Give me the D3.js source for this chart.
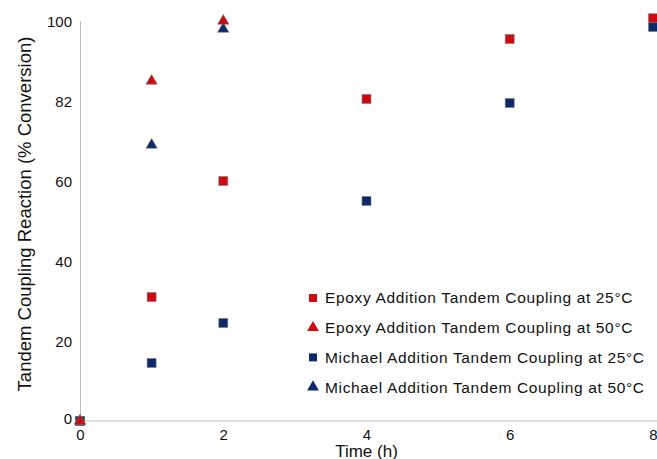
<!DOCTYPE html>
<html>
<head>
<meta charset="utf-8">
<script src="https://cdn.jsdelivr.net/npm/d3@7"></script>
<style>
  body { margin: 0; background: #fff; }
  text { font-family: "Liberation Sans", Arial, sans-serif; fill: #111; }
</style>
</head>
<body>
<div class="chart"></div>
<script>
// DATA ------------------------------
const epoxy25Time = [0, 1, 2, 4, 6, 8]
const epoxy25Conv = [0, 31, 60, 80.5, 95.5, 100.7]
const michael25Time = [0, 1, 2, 4, 6, 8]
const michael25Conv = [0, 14.5, 24.5, 55, 79.5, 98.5]
const epoxy50Time = [0, 1, 2]
const epoxy50Conv = [0, 85, 100]
const michael50Time = [0, 1, 2]
const michael50Conv = [0, 69, 98]

const xTicks = [0, 2, 4, 6, 8]
const yTicks = [0, 20, 40, 60, 80, 100]
const yTickLabels = ["0", "20", "40", "60", "82", "100"]

const seriesNames = [
  "Epoxy Addition Tandem Coupling at 25°C",
  "Epoxy Addition Tandem Coupling at 50°C",
  "Michael Addition Tandem Coupling at 25°C",
  "Michael Addition Tandem Coupling at 50°C"
]

const red = "#cc0a10"
const navy = "#0c2a6b"

// CHART INIT ------------------------------
const W = 657, H = 459
const margin = ({top: 21, right: 4, bottom: 38, left: 80})
const width = W - margin.left - margin.right
const height = H - margin.top - margin.bottom

const svg = d3.select(".chart")
  .append("svg")
  .attr("width", W)
  .attr("height", H)

const g = svg.append("g")
  .attr("transform", `translate(${margin.left},${margin.top})`)

const xScale = d3.scaleLinear().domain([0, 8]).range([0, 573])
const yScale = d3.scaleLinear().domain([0, 100]).range([height, 0])

// axes
const xAxis = d3.axisBottom(xScale).tickValues(xTicks).tickSize(0).tickPadding(10)
const yAxis = d3.axisLeft(yScale).tickValues(yTicks).tickSize(0).tickPadding(8)
  .tickFormat((d, i) => yTickLabels[i])

const xg = g.append("g").attr("transform", `translate(0,${height})`).call(xAxis)
xg.select(".domain").remove()
g.append("line")
  .attr("x1", 0).attr("x2", W - margin.left)
  .attr("y1", height).attr("y2", height)
  .attr("stroke", "#bdbdbd")
xg.selectAll("text").style("font-size", "15px").attr("dy", "0.6em")

const yg = g.append("g").call(yAxis)
yg.select(".domain").attr("stroke", "#bdbdbd")
yg.selectAll("text").style("font-size", "15px")
  .attr("dy", (d) => d == 0 ? "0.15em" : "0.35em")

// titles
svg.append("text")
  .attr("x", margin.left + xScale(4))
  .attr("y", 457)
  .attr("text-anchor", "middle")
  .style("font-size", "17px")
  .text("Time (h)")

svg.append("text")
  .attr("transform", "translate(31,214) rotate(-90)")
  .attr("text-anchor", "middle")
  .style("font-size", "18.5px")
  .text("Tandem Coupling Reaction (% Conversion)")

// markers
const square = d3.symbol().type(d3.symbolSquare).size(81)
const triangle = d3.symbol().type(d3.symbolTriangle).size(55)

function drawSeries(times, values, sym, color) {
  g.append("g").selectAll("path")
    .data(times.map((t, i) => ({t: t, v: values[i]})))
    .enter()
    .append("path")
    .attr("d", sym)
    .attr("transform", d => `translate(${xScale(d.t)},${yScale(d.v)})`)
    .attr("fill", color)
    .attr("stroke", "#777")
    .attr("stroke-width", 0.6)
}

drawSeries(epoxy25Time, epoxy25Conv, square, red)
drawSeries(michael25Time, michael25Conv, square, navy)
drawSeries(michael50Time, michael50Conv, triangle, navy)
drawSeries(epoxy50Time, epoxy50Conv, triangle, red)

// legend
const legendSyms = [
  {sym: d3.symbol().type(d3.symbolSquare).size(64), color: red},
  {sym: d3.symbol().type(d3.symbolTriangle).size(60), color: red},
  {sym: d3.symbol().type(d3.symbolSquare).size(64), color: navy},
  {sym: d3.symbol().type(d3.symbolTriangle).size(60), color: navy}
]
const legend = svg.append("g").attr("transform", "translate(313,298)")
seriesNames.forEach((name, i) => {
  const row = legend.append("g").attr("transform", `translate(0,${i * 29.7})`)
  row.append("path")
    .attr("d", legendSyms[i].sym)
    .attr("fill", legendSyms[i].color)
  row.append("text")
    .attr("x", 12)
    .attr("dy", "0.35em")
    .style("font-size", "15.5px")
    .style("letter-spacing", "0.65px")
    .text(name)
})
</script>
</body>
</html>
